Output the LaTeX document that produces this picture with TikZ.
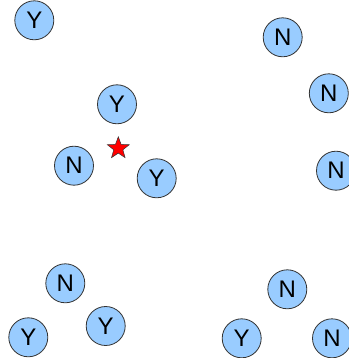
\documentclass[tikz,border=0pt]{standalone}
\usepackage{fontspec}
\setmainfont{Liberation Sans}
\usetikzlibrary{shapes.geometric}
\definecolor{bubble}{HTML}{99CCFF}
\tikzset{
  pt/.style={circle,draw=black!80,line width=0.8pt,fill=bubble,minimum size=39pt,inner sep=0pt,font=\fontsize{24}{24}\selectfont},
  starmark/.style={star,star points=5,star point ratio=2.4,minimum size=23pt,inner sep=0pt,fill=red,draw=black!80,line width=0.5pt}
}
\begin{document}
\begin{tikzpicture}[x=1pt,y=-1pt]
\useasboundingbox (0,0) rectangle (348,358);
\node[pt] (a) at (34.3,20.3) {Y};
\node[pt] (b) at (117,104.3) {Y};
\node[pt] (c) at (74,165.7) {N};
\node[pt] (d) at (156.7,178.3) {Y};
\node[starmark] (s) at (118.3,148.3) {};
\node[pt] (e) at (282.7,37.3) {N};
\node[pt] (f) at (328.8,93.3) {N};
\node[pt] (g) at (336,170.7) {N};
\node[pt] (h) at (65.3,283.3) {N};
\node[pt] (i) at (28.3,337.3) {Y};
\node[pt] (j) at (105.7,326) {Y};
\node[pt] (k) at (287.3,289.3) {N};
\node[pt] (l) at (241.7,338.3) {Y};
\node[pt] (m) at (332,338.3) {N};
\end{tikzpicture}
\end{document}
